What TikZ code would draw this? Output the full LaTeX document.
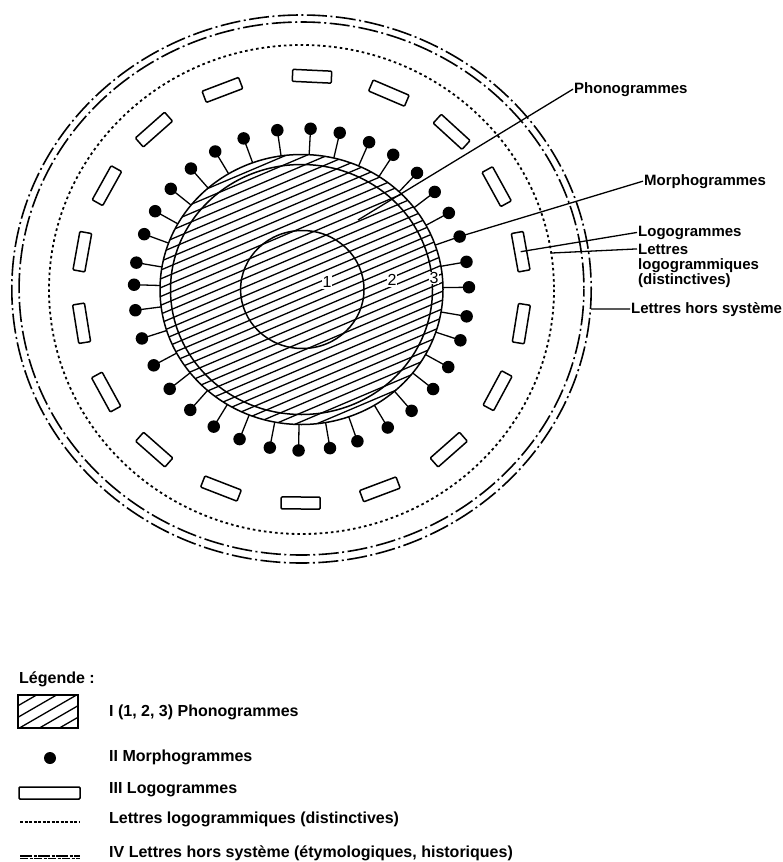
\documentclass[tikz,border=0pt]{standalone}
\usepackage{fontspec}
\setmainfont{Liberation Sans}
\begin{document}
\begin{tikzpicture}[x=1pt,y=-1pt,
  lbl/.style={font=\fontsize{15}{17}\selectfont\bfseries, inner sep=1pt, anchor=base west},
  leglbl/.style={font=\fontsize{16}{18}\selectfont\bfseries, inner sep=1pt, anchor=base west},
  num/.style={font=\fontsize{16}{18}\selectfont, inner sep=1pt, fill=white},
  hatch/.style={line width=1.3pt},
  circ/.style={line width=1.5pt},
  dotc/.style={line width=1.8pt, dash pattern=on 2.6pt off 3pt},
  hors/.style={line width=1.6pt, dash pattern=on 20pt off 3.5pt on 2pt off 3.5pt},
  dotnode/.style={circle, fill=black, inner sep=0pt, minimum size=12.5pt},
  logobox/.style={draw, rectangle, line width=1.5pt, rounded corners=1pt, minimum width=39pt, minimum height=12pt, inner sep=0pt},
  stem/.style={line width=1.3pt},
  leader/.style={line width=1.3pt}
]
\useasboundingbox (0,0) rectangle (782,862);
\fill[white] (0,0) rectangle (782,862);
\def\cx{301.5}
\def\cy{289.5}

% hatched disc
\begin{scope}
  \clip (\cx,\cy) ellipse [x radius=141.5, y radius=135];
  \begin{scope}[shift={(\cx,\cy)}, rotate=23]
    \foreach \k in {-20,...,20} \draw[hatch] (-170,\k*8.1) -- (170,\k*8.1);
  \end{scope}
\end{scope}
\draw[circ] (\cx,\cy) ellipse [x radius=141.5, y radius=135];
\draw[circ] (\cx,\cy) ellipse [x radius=131, y radius=125];
\draw[circ] (302.3,289.5) ellipse [x radius=61.7, y radius=59];

\node[num] (n1) at (327,282) {1};
\node[num] (n2) at (392,280) {2};
\node[num, inner sep=0.3pt] (n3) at (434,278) {3};

% morphogram dots
\foreach \a [count=\i] in {98.3,86.9,76.8,66.2,56.8,46.4,37.3,28.4,19.2,9.9,0.8,-9.6,-18.4,-28.8,-38.2,-48.9,-59,-70.5,-80.2,-91,-100.9,-111.7,-121.6,-131.6,-141.9,-151.9,-162.3,-172.6,178.3,170.4,159.9,150.9,141.3,131.3,121,110.2} {
  \node[dotnode] (d\i) at ({\cx+167.5*cos(\a)},{\cy-161*sin(\a)}) {};
  \coordinate (s\i) at ({\cx+141.5*cos(\a)},{\cy-135*sin(\a)});
  \draw[stem] (s\i) -- (d\i.center);
}

% logogram boxes
\foreach \a [count=\i] in {87.3,66.9,47.6,28.8,10.2,-9.2,-28.3,-48.6,-69.4,-90.2,-111.2,-131.4,-151.3,-170.9,169.8,150.9,131.5,110.8} {
  \node[logobox, rotate=\a-90] (b\i) at ({\cx+222.7*cos(\a)},{\cy-213.5*sin(\a)}) {};
}

% dotted and outer circles
\draw[dotc] (\cx,289.5) ellipse [x radius=252.5, y radius=244.5];
\draw[hors] (\cx,289) ellipse [x radius=289.7, y radius=274];
\draw[hors, dash phase=12pt] (\cx,288.5) ellipse [x radius=282.4, y radius=266.5];

% labels
\node[lbl] (phono) at (573,93) {Phonogrammes};
\node[lbl] (morph) at (643,185) {Morphogrammes};
\node[lbl] (logo) at (637,236) {Logogrammes};
\node[lbl] (lett1) at (637,254) {Lettres};
\node[lbl] (lett2) at (637,269) {logogrammiques};
\node[lbl] (lett3) at (637,284) {(distinctives)};
\node[lbl] (hors) at (630,313) {Lettres hors système};

\coordinate (phonoEnd) at (358,220);
\coordinate (dotEnd) at (552,253);
\coordinate (horsEnd) at (591,309);
\draw[leader] (phono.west) -- (phonoEnd);
\draw[leader] (morph.west) -- (d9.center);
\draw[leader] (logo.west) -- (b5.center);
\draw[leader] (lett1.west) -- (dotEnd);
\draw[leader] (hors.west) -- (horsEnd);

% legend
\node[leglbl] (leg) at (18,683) {Légende :};
\begin{scope}
  \clip (18,695) rectangle (78,728);
  \begin{scope}[shift={(48,711.5)}, rotate=30]
    \foreach \k in {-4,...,4} \draw[hatch] (-50,\k*10) -- (50,\k*10);
  \end{scope}
\end{scope}
\draw[line width=1.8pt] (18,695) rectangle (78,728);
\node[dotnode, minimum size=12pt] (ldot) at (50,758) {};
\node[logobox, minimum width=61pt, minimum height=12pt] (lrect) at (49.5,793) {};
\draw[line width=1.2pt, dash pattern=on 3pt off 1.5pt] (20,822) -- (80,822);
\draw[line width=1.4pt, dash pattern=on 12pt off 1.5pt on 3pt off 1.5pt] (20,856) -- (80,856);
\draw[line width=1.4pt, dash pattern=on 8pt off 1.5pt on 3pt off 1.5pt] (20,858.6) -- (80,858.6);

\node[leglbl] (t1) at (108,716) {I (1, 2, 3) Phonogrammes};
\node[leglbl] (t2) at (108,761) {II Morphogrammes};
\node[leglbl] (t3) at (108,793) {III Logogrammes};
\node[leglbl] (t4) at (108,823) {Lettres logogrammiques (distinctives)};
\node[leglbl] (t5) at (108,857) {IV Lettres hors système (étymologiques, historiques)};
\end{tikzpicture}
\end{document}
